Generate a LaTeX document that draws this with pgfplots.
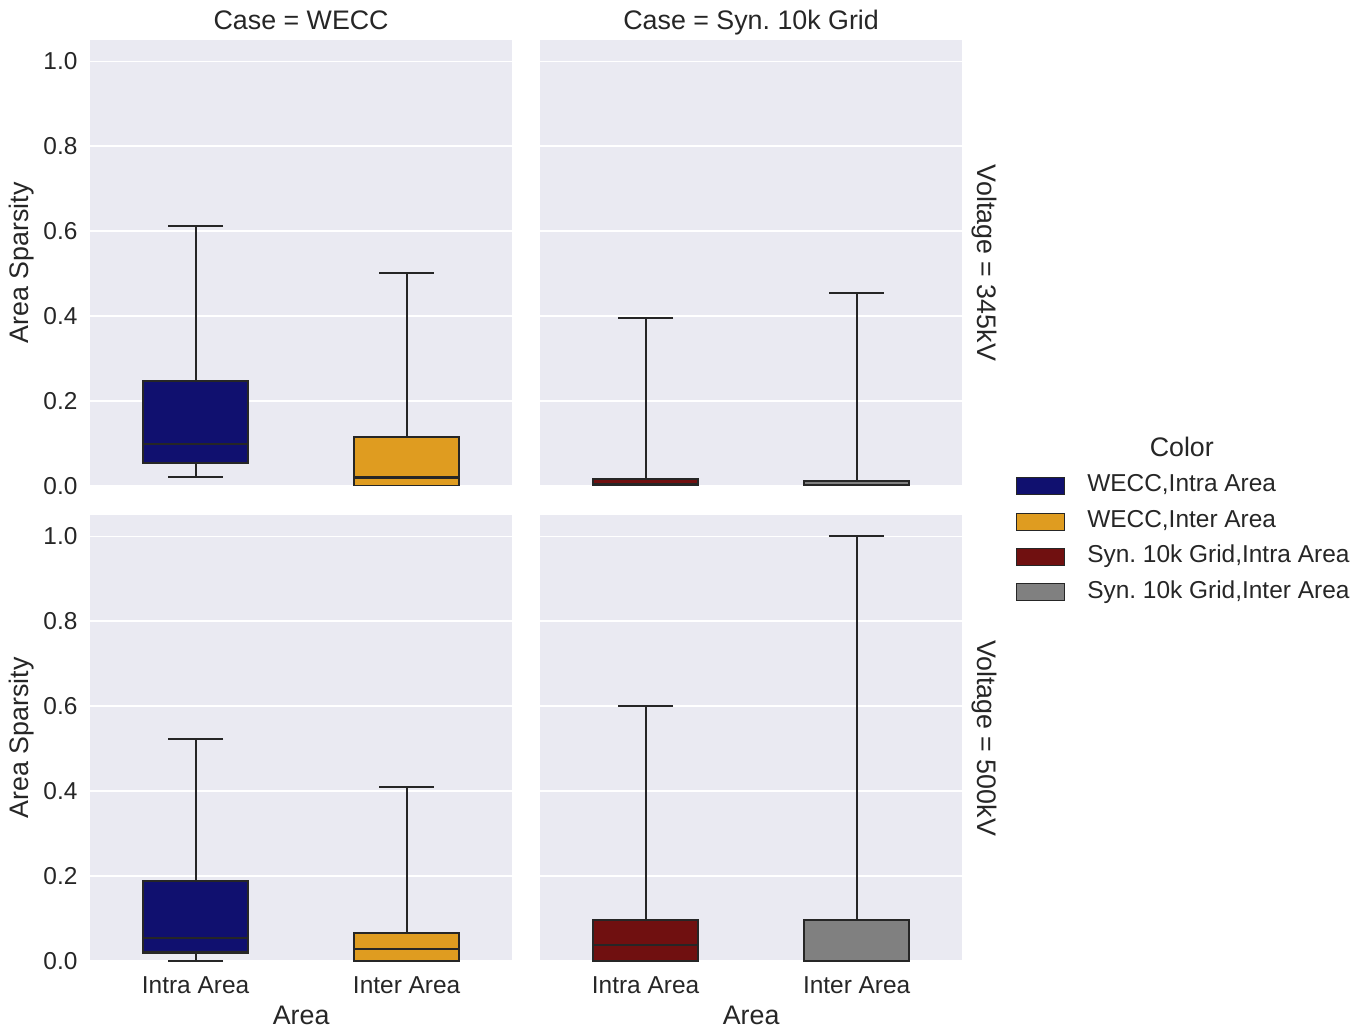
\documentclass[border=0pt]{standalone}
\usepackage{fontspec}
\setmainfont{Liberation Sans}
\usepackage{pgfplots}
\pgfplotsset{compat=1.18}
\usepgfplotslibrary{statistics}
\frenchspacing
\definecolor{bgc}{HTML}{EAEAF2}
\definecolor{linec}{HTML}{262626}
\definecolor{navyc}{HTML}{10106F}
\definecolor{orangec}{HTML}{DF9C20}
\definecolor{maroonc}{HTML}{701010}
\definecolor{grayc}{HTML}{808080}
\newcommand{\tickfont}{\fontsize{17.6}{20}\selectfont}
\newcommand{\labfont}{\fontsize{19.3}{22}\selectfont}
\pgfplotsset{
  facet/.style={
    scale only axis, width=304pt, height=321.12pt,
    xmin=-0.5, xmax=1.5, ymin=0, ymax=1.05,
    clip mode=individual,
    axis background/.style={fill=bgc},
    axis line style={draw=none},
    major tick length=0pt,
    ytick={0,0.2,0.4,0.6,0.8,1.0},
    xtick={0,1},
    xticklabels={Intra Area,Inter Area},
    ymajorgrids, grid style={white, line width=1pt},
    tick label style={font=\tickfont, text=linec},
    yticklabel style={/pgf/number format/.cd, fixed, fixed zerofill, precision=1, /tikz/xshift=-5.5pt},
    xticklabel style={yshift=-7.6pt},
    /pgf/number format/assume math mode=true,
    boxplot/draw direction=y,
  },
  bx/.style={line width=1.5pt, draw=linec, solid, forget plot},
}
\begin{document}
\begin{tikzpicture}
\useasboundingbox (0,0) rectangle (982.08pt,741.6pt);
% top-left
\begin{axis}[facet, at={(64.8pt,391.68pt)}, anchor=south west, xticklabels={}]
\addplot[bx, fill=navyc, boxplot prepared={draw position=0, lower whisker=0.022, lower quartile=0.055, median=0.099, upper quartile=0.247, upper whisker=0.612, box extend=0.5, whisker extend=0.26}] coordinates {};
\addplot[bx, fill=orangec, boxplot prepared={draw position=1, lower whisker=0, lower quartile=0, median=0.02, upper quartile=0.115, upper whisker=0.502, box extend=0.5, whisker extend=0.26}] coordinates {};
\node[font=\labfont, text=linec, anchor=base, inner sep=0pt] at ([yshift=7.9pt]axis description cs:0.5,1) {Case = WECC};
\node[font=\labfont, text=linec, rotate=90] at ([xshift=-49pt]axis description cs:0,0.5) {Area Sparsity};
\end{axis}
% top-right
\begin{axis}[facet, at={(388.8pt,391.68pt)}, anchor=south west, xticklabels={}, yticklabels={},
  legend style={at={(axis description cs:1.128,0.024)}, anchor=north west, draw=none, fill=none,
    font=\tickfont, inner sep=0pt, outer sep=0pt, row sep=9.45pt, column sep=15.8pt,
    nodes={inner sep=0pt, text height=12pt, text depth=4pt, text=linec}},
  legend cell align=left,
  legend image code/.code={\draw[#1, draw=linec, line width=0.7pt] (0pt,-6.1pt) rectangle (34.6pt,6.1pt);}]
\addlegendimage{fill=navyc}\addlegendentry{WECC,Intra Area}
\addlegendimage{fill=orangec}\addlegendentry{WECC,Inter Area}
\addlegendimage{fill=maroonc}\addlegendentry{Syn. 10k Grid,Intra Area}
\addlegendimage{fill=grayc}\addlegendentry{Syn. 10k Grid,Inter Area}
\addplot[bx, fill=maroonc, boxplot prepared={draw position=0, lower whisker=0, lower quartile=0, median=0.004, upper quartile=0.017, upper whisker=0.395, box extend=0.5, whisker extend=0.26}] coordinates {};
\addplot[bx, fill=grayc, boxplot prepared={draw position=1, lower whisker=0, lower quartile=0, median=0.002, upper quartile=0.012, upper whisker=0.455, box extend=0.5, whisker extend=0.26}] coordinates {};
\node[font=\labfont, text=linec, anchor=base, inner sep=0pt] at ([yshift=7.9pt]axis description cs:0.5,1) {Case = Syn. 10k Grid};
\node[font=\labfont, text=linec, rotate=-90] at ([xshift=15.8pt]axis description cs:1,0.5) {Voltage = 345kV};
\node[font=\labfont, text=linec] at (axis description cs:1.520,0.0874) {Color};
\end{axis}
% bottom-left
\begin{axis}[facet, at={(64.8pt,49.68pt)}, anchor=south west]
\addplot[bx, fill=navyc, boxplot prepared={draw position=0, lower whisker=0, lower quartile=0.02, median=0.054, upper quartile=0.188, upper whisker=0.522, box extend=0.5, whisker extend=0.26}] coordinates {};
\addplot[bx, fill=orangec, boxplot prepared={draw position=1, lower whisker=0, lower quartile=0, median=0.029, upper quartile=0.065, upper whisker=0.41, box extend=0.5, whisker extend=0.26}] coordinates {};
\node[font=\labfont, text=linec, rotate=90] at ([xshift=-49pt]axis description cs:0,0.5) {Area Sparsity};
\node[font=\labfont, text=linec] at ([yshift=-38.9pt]axis description cs:0.5,0) {Area};
\end{axis}
% bottom-right
\begin{axis}[facet, at={(388.8pt,49.68pt)}, anchor=south west, yticklabels={}]
\addplot[bx, fill=maroonc, boxplot prepared={draw position=0, lower whisker=0, lower quartile=0, median=0.037, upper quartile=0.096, upper whisker=0.6, box extend=0.5, whisker extend=0.26}] coordinates {};
\addplot[bx, fill=grayc, boxplot prepared={draw position=1, lower whisker=0, lower quartile=0, median=0, upper quartile=0.097, upper whisker=1.0, box extend=0.5, whisker extend=0.26}] coordinates {};
\node[font=\labfont, text=linec] at ([yshift=-38.9pt]axis description cs:0.5,0) {Area};
\node[font=\labfont, text=linec, rotate=-90] at ([xshift=15.8pt]axis description cs:1,0.5) {Voltage = 500kV};
\end{axis}
\end{tikzpicture}
\end{document}
